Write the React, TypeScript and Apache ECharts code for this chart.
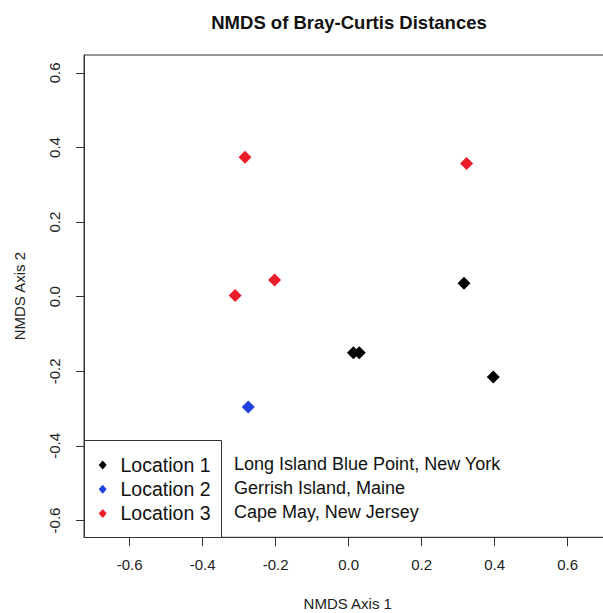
import React, { useEffect, useRef } from "react";
import * as echarts from "echarts";

const title = "NMDS of Bray-Curtis Distances";
const xAxisName = "NMDS Axis 1";
const yAxisName = "NMDS Axis 2";
const tickValues = [-0.6, -0.4, -0.2, 0.0, 0.2, 0.4, 0.6];

const seriesNames = ["Location 1", "Location 2", "Location 3"];
const siteNames = ["Long Island Blue Point, New York", "Gerrish Island, Maine", "Cape May, New Jersey"];
const seriesColors = ["#000000", "#1f3fe0", "#ec1c2a"];

const loc1X = [0.316, 0.013, 0.029, 0.396];
const loc1Y = [0.036, -0.15, -0.15, -0.215];
const loc2X = [-0.275];
const loc2Y = [-0.296];
const loc3X = [-0.284, 0.323, -0.203, -0.311];
const loc3Y = [0.374, 0.357, 0.045, 0.003];

const FONT = "'Liberation Sans', Arial, Helvetica, sans-serif";

export default function App() {
  const ref = useRef<HTMLDivElement>(null);
  useEffect(() => {
    if (!ref.current) return;
    const chart = echarts.init(ref.current, undefined, { renderer: "svg" });
    const pairs = (xs: number[], ys: number[]) => xs.map((x, i) => [x, ys[i]]);
    const all = [pairs(loc1X, loc1Y), pairs(loc2X, loc2Y), pairs(loc3X, loc3Y)];

    const legendTop = 465;
    const rowGap = 24.2;
    const legendGraphics: any[] = [
      {
        type: "rect",
        shape: { x: 84.5, y: 440.5, width: 137, height: 97 },
        style: { fill: "#fff", stroke: "#333", lineWidth: 1 },
        z: 10,
      },
    ];
    seriesNames.forEach((name, i) => {
      const cy = legendTop + i * rowGap;
      const cx = 102.7;
      legendGraphics.push({
        type: "polygon",
        shape: { points: [[cx, cy - 4.5], [cx + 4, cy], [cx, cy + 4.5], [cx - 4, cy]] },
        style: { fill: seriesColors[i] },
        z: 11,
      });
      legendGraphics.push({
        type: "text",
        x: 120.5,
        y: cy,
        style: { text: name, fontSize: 19.5, fontFamily: FONT, fill: "#111", textVerticalAlign: "middle" },
        z: 11,
      });
      legendGraphics.push({
        type: "text",
        x: 234,
        y: cy - 1.5,
        style: { text: siteNames[i], fontSize: 18, fontFamily: FONT, fill: "#111", textVerticalAlign: "middle" },
        z: 11,
      });
    });

    chart.setOption({
      animation: false,
      backgroundColor: "#fff",
      title: {
        text: title,
        left: 344,
        top: 8,
        textAlign: "center",
        textStyle: { fontSize: 18.5, fontWeight: "bold", fontFamily: FONT, color: "#111" },
      },
      grid: {
        left: 84,
        top: 55,
        width: 527.5,
        bottom: 75.7,
        outerBoundsMode: "none",
        containLabel: false,
        show: true,
        borderColor: "#333",
        borderWidth: 1,
      },
      xAxis: {
        type: "value",
        min: -0.725,
        max: 0.72,
        name: xAxisName,
        nameLocation: "middle",
        nameGap: 59,
        nameTextStyle: { fontSize: 15, fontFamily: FONT, color: "#222" },
        axisLine: { show: true, onZero: false, lineStyle: { color: "#333" } },
        axisTick: { show: true, length: 9, customValues: tickValues, lineStyle: { color: "#333" } },
        axisLabel: {
          customValues: tickValues,
          fontSize: 15,
          fontFamily: FONT,
          color: "#222",
          margin: 20,
          formatter: (v: number) => v.toFixed(1),
        },
        splitLine: { show: false },
      },
      yAxis: {
        type: "value",
        min: -0.645,
        max: 0.648,
        name: yAxisName,
        nameLocation: "middle",
        nameGap: 57,
        nameTextStyle: { fontSize: 15, fontFamily: FONT, color: "#222" },
        axisLine: { show: true, onZero: false, lineStyle: { color: "#333" } },
        axisTick: { show: true, length: 8, customValues: tickValues, lineStyle: { color: "#333" } },
        axisLabel: {
          customValues: tickValues,
          rotate: 90,
          fontSize: 15,
          fontFamily: FONT,
          color: "#222",
          margin: 22,
          formatter: (v: number) => v.toFixed(1),
        },
        splitLine: { show: false },
      },
      series: seriesNames.map((name, i) => ({
        type: "scatter",
        name,
        data: all[i],
        symbol: "diamond",
        symbolSize: 13,
        itemStyle: { color: seriesColors[i], opacity: 1 },
      })),
      graphic: legendGraphics,
    });
    return () => chart.dispose();
  }, []);
  return <div ref={ref} style={{ position: "fixed", left: 0, top: 0, width: 603, height: 613 }} />;
}
